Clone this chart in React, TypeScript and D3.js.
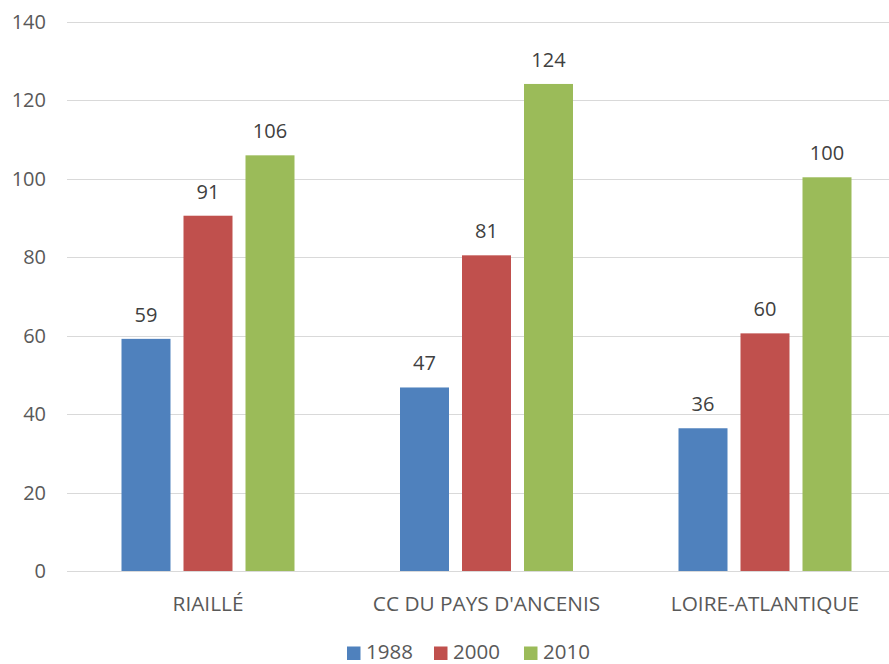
import React from "react";
import * as d3 from "d3";

const categories = ["RIAILLÉ", "CC DU PAYS D'ANCENIS", "LOIRE-ATLANTIQUE"];
const seriesNames = ["1988", "2000", "2010"];
const values1988 = [59.2, 46.8, 36.4];
const values2000 = [90.6, 80.5, 60.6];
const values2010 = [106.0, 124.2, 100.4];
const labels1988 = ["59", "47", "36"];
const labels2000 = ["91", "81", "60"];
const labels2010 = ["106", "124", "100"];
const yTicks = [0, 20, 40, 60, 80, 100, 120, 140];
const colors = ["#4F81BD", "#C0504D", "#9BBB59"];

const seriesValues = [values1988, values2000, values2010];
const seriesLabels = [labels1988, labels2000, labels2010];

const W = 889;
const H = 664;
const FONT = "'Open Sans', sans-serif";
const TEXT = "#595959";

export default function App() {
  const y = d3.scaleLinear().domain([0, 140]).range([571, 22]);
  const x0 = d3.scaleBand<string>().domain(categories).range([68.75, 904.25]).paddingInner(0).paddingOuter(0);
  const groupW = 173;
  const x1 = d3
    .scaleBand<string>()
    .domain(seriesNames)
    .range([0, groupW])
    .paddingInner(13 / 62)
    .paddingOuter(0);

  const gridLeft = 67;
  const legendX = [347, 434, 524];

  return (
    <svg width={W} height={H} style={{ position: "absolute", left: 0, top: 0, background: "#fff" }}>
      <rect x={0} y={0} width={W} height={H} fill="#fff" />
      {yTicks.map((t) => (
        <g key={t}>
          <line x1={gridLeft} x2={W} y1={Math.round(y(t)) + 0.5} y2={Math.round(y(t)) + 0.5} stroke="#D9D9D9" strokeWidth={1} />
          <text x={46} y={y(t) + 7} textAnchor="end" fontFamily={FONT} fontSize={20} fill={TEXT}>
            {t}
          </text>
        </g>
      ))}
      {categories.map((c, ci) => {
        const cx = (x0(c) as number) + x0.bandwidth() / 2;
        const gx = cx - groupW / 2;
        return (
          <g key={c}>
            {seriesNames.map((s, si) => {
              const v = seriesValues[si][ci];
              const bx = gx + (x1(s) as number);
              const bw = x1.bandwidth();
              return (
                <g key={s}>
                  <rect x={bx} y={y(v)} width={bw} height={y(0) - y(v)} fill={colors[si]} />
                  <text
                    x={bx + bw / 2}
                    y={y(v) - 17}
                    textAnchor="middle"
                    fontFamily={FONT}
                    fontSize={20}
                    fill="#404040"
                  >
                    {seriesLabels[si][ci]}
                  </text>
                </g>
              );
            })}
            <text x={cx} y={611} textAnchor="middle" fontFamily={FONT} fontSize={20.8} fill={TEXT}>
              {c}
            </text>
          </g>
        );
      })}
      {seriesNames.map((s, si) => (
        <g key={s}>
          <rect x={legendX[si]} y={646.5} width={13.5} height={13.5} fill={colors[si]} />
          <text x={legendX[si] + 19} y={659} fontFamily={FONT} fontSize={20.5} fill={TEXT}>
            {s}
          </text>
        </g>
      ))}
    </svg>
  );
}
